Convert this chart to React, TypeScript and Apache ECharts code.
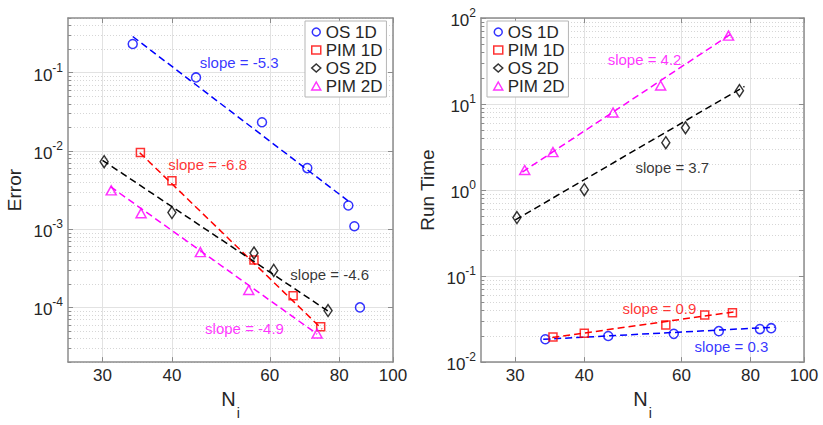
import React, { useEffect, useRef } from 'react';
import * as echarts from 'echarts';

const FONT = '"Liberation Sans", Arial, Helvetica, sans-serif';
const TXT = '#262626';

// ticks
const xTicks = [30, 40, 60, 80, 100];
const errTicks = [1e-4, 1e-3, 1e-2, 1e-1];
const timeTicks = [1e-2, 1e-1, 1, 10, 100];
const minorMultipliers = [2, 3, 4, 5, 6, 7, 8, 9];
const errDecades = [1e-5, 1e-4, 1e-3, 1e-2, 1e-1];
const timeDecades = [1e-2, 1e-1, 1, 10];

// legend names
const names = ['OS 1D', 'PIM 1D', 'OS 2D', 'PIM 2D'];

// Error panel data
const os1dN = [34.0, 44.2, 58.1, 70.1, 83.1, 85.2, 87.2];
const os1dErr = [0.233, 0.087, 0.0233, 0.00603, 0.00201, 0.00109, 0.0001];
const pim1dN = [35.1, 40.0, 56.2, 66.1, 74.1];
const pim1dErr = [0.00953, 0.00416, 0.000403, 0.000141, 0.0000568];
const os2dN = [30.2, 40.0, 56.2, 61.0, 76.4];
const os2dErr = [0.00728, 0.00163, 0.000496, 0.000297, 0.0000912];
const pim2dN = [31.1, 35.2, 45.0, 55.0, 73.0];
const pim2dErr = [0.00313, 0.0016, 0.000509, 0.000167, 0.0000464];

// Error fits (end points)
const os1dErrFit = [[34, 0.29], [83, 0.0023]];
const pim1dErrFit = [[35, 0.0095], [74.5, 0.000053]];
const os2dErrFit = [[30, 0.0076], [77, 0.0000865]];
const pim2dErrFit = [[31, 0.0035], [73, 0.0000457]];

// Run time panel data
const os1dTN = [34.0, 44.2, 58.1, 70.1, 83.2, 87.2];
const os1dT = [0.01845, 0.0201, 0.0213, 0.0229, 0.0242, 0.0248];
const pim1dTN = [35.1, 40.0, 56.2, 66.1, 74.2];
const pim1dT = [0.0196, 0.0217, 0.027, 0.0353, 0.0374];
const os2dTN = [30.2, 40.0, 56.2, 61.0, 76.4];
const os2dT = [0.479, 1.01, 3.55, 5.3, 14.3];
const pim2dTN = [31.2, 35.1, 45.1, 55.0, 73.0];
const pim2dT = [1.71, 2.76, 7.96, 16.4, 62.4];

const os1dTFit = [[33.7, 0.0184], [88.5, 0.0255]];
const pim1dTFit = [[35, 0.0193], [75.2, 0.0386]];
const os2dTFit = [[30, 0.45], [78, 16.0]];
const pim2dTFit = [[30.9, 1.62], [74.5, 68]];

// slope annotations: [N, value, text]
const errSlopes: [number, number, string][] = [
  [44.8, 0.134, 'slope = -5.3'],
  [39.3, 0.00664, 'slope = -6.8'],
  [65.2, 0.000264, 'slope = -4.6'],
  [45.8, 0.000054, 'slope = -4.9'],
];
const timeSlopes: [number, number, string][] = [
  [44.0, 32.8, 'slope = 4.2'],
  [49.4, 1.84, 'slope = 3.7'],
  [46.8, 0.0423, 'slope = 0.9'],
  [63.2, 0.015, 'slope = 0.3'],
];
const errSlopeColors = ['#0000ff', '#ff0000', '#000000', '#ff00ff'];
const timeSlopeColors = ['#ff00ff', '#000000', '#ff0000', '#0000ff'];

const colors = ['#0000ff', '#ff0000', '#000000', '#ff00ff'];
const symbols = ['circle', 'rect', 'diamond', 'triangle'];
const symbolSizes: any[] = [9, 8, [8, 12], [10, 9]];

const zip = (a: number[], b: number[]) => a.map((v, i) => [v, b[i]]);

function minorOf(decades: number[], lo: number, hi: number) {
  const out: number[] = [];
  decades.forEach((d) => minorMultipliers.forEach((m) => {
    const v = m * d;
    if (v >= lo * 0.999 && v <= hi * 1.001) out.push(v);
  }));
  return out;
}

const richSup = {
  b: { fontSize: 17, lineHeight: 22, verticalAlign: 'bottom', color: TXT, fontFamily: FONT },
  s: { fontSize: 12, lineHeight: 22, verticalAlign: 'top', color: TXT, fontFamily: FONT },
};
const supFmt = (v: number) => `{b|10}{s|${Math.round(Math.log10(v))}}`;

const AXIS_COLOR = '#8c8c8c';
const GRID_COLOR = '#e2e2e2';
const MINOR_COLOR = '#d6d6d6';

function xAxes(gi: number) {
  return [
    {
      type: 'log', logBase: 10, gridIndex: gi, min: 26, max: 100, position: 'bottom',
      name: '{n|N}{i|i}', nameLocation: 'middle', nameGap: 20,
      nameTextStyle: {
        rich: {
          n: { fontSize: 20, verticalAlign: 'top', color: TXT, fontFamily: FONT },
          i: { fontSize: 14, verticalAlign: 'top', padding: [17, 0, 0, 1], color: TXT, fontFamily: FONT },
        },
      },
      axisLine: { show: true, onZero: false, lineStyle: { color: AXIS_COLOR, width: 1.5 } },
      axisTick: { show: true, inside: true, length: 5, customValues: xTicks, lineStyle: { color: AXIS_COLOR } },
      axisLabel: {
        customValues: xTicks, margin: 5, fontSize: 17, color: TXT, fontFamily: FONT,
        formatter: (v: number) => String(Math.round(v)),
      },
      splitLine: { show: true, lineStyle: { color: GRID_COLOR, width: 1 } },
      minorTick: { show: false }, minorSplitLine: { show: false },
    },
    {
      type: 'log', logBase: 10, gridIndex: gi, min: 26, max: 100, position: 'top',
      axisLine: { show: true, onZero: false, lineStyle: { color: AXIS_COLOR, width: 1.5 } },
      axisTick: { show: true, inside: true, length: 5, customValues: xTicks, lineStyle: { color: AXIS_COLOR } },
      axisLabel: { show: false },
      splitLine: { show: false },
    },
  ];
}

function yAxes(gi: number, min: number, max: number, ticks: number[], minor: number[], name: string) {
  return [
    {
      type: 'log', logBase: 10, gridIndex: gi, min, max, position: 'left',
      name, nameLocation: 'middle', nameGap: 44,
      nameTextStyle: { fontSize: 19, color: TXT, fontFamily: FONT },
      axisLine: { show: true, onZero: false, lineStyle: { color: AXIS_COLOR, width: 1.5 } },
      axisTick: { show: true, inside: true, length: 5, customValues: ticks, lineStyle: { color: AXIS_COLOR } },
      axisLabel: { customValues: ticks, margin: 5, formatter: supFmt, rich: richSup },
      splitLine: { show: true, lineStyle: { color: GRID_COLOR, width: 1 } },
    },
    {
      type: 'log', logBase: 10, gridIndex: gi, min, max, position: 'left',
      axisLine: { show: false, onZero: false },
      axisTick: { show: true, inside: true, length: 3, customValues: minor, lineStyle: { color: AXIS_COLOR } },
      axisLabel: { show: false },
      splitLine: { show: true, lineStyle: { color: MINOR_COLOR, width: 1, type: [1, 2] } },
    },
    {
      type: 'log', logBase: 10, gridIndex: gi, min, max, position: 'right',
      axisLine: { show: true, onZero: false, lineStyle: { color: AXIS_COLOR, width: 1.5 } },
      axisTick: { show: true, inside: true, length: 5, customValues: ticks, lineStyle: { color: AXIS_COLOR } },
      axisLabel: { show: false },
      splitLine: { show: false },
    },
  ];
}

function pointSeries(xi: number, yi: number, sets: number[][][]) {
  return sets.map((d, k) => ({
    type: 'scatter', name: names[k], xAxisIndex: xi, yAxisIndex: yi, data: d,
    symbol: symbols[k], symbolSize: symbolSizes[k], z: 5,
    itemStyle: { color: 'transparent', borderColor: colors[k], borderWidth: 1.5 },
  }));
}

function fitSeries(xi: number, yi: number, fits: number[][][], tag: string) {
  return fits.map((d, k) => ({
    type: 'line', name: `${names[k]} fit ${tag}`, xAxisIndex: xi, yAxisIndex: yi, data: d,
    showSymbol: false, symbol: 'none', z: 3,
    lineStyle: { color: colors[k], width: 1.5, type: [7, 4] },
  }));
}

function slopeSeries(xi: number, yi: number, items: [number, number, string][], cols: string[]) {
  return {
    type: 'scatter', name: 'slopes', xAxisIndex: xi, yAxisIndex: yi, symbolSize: 1, silent: true, z: 6,
    itemStyle: { color: 'transparent' },
    data: items.map((it, k) => ({
      value: [it[0], it[1]],
      label: {
        show: true, position: 'right', distance: 0, formatter: it[2],
        color: cols[k], fontSize: 15, fontFamily: FONT,
      },
    })),
  };
}

function legend(left: number) {
  return {
    orient: 'vertical', left, top: 21, padding: [2, 4, 2, 6], itemGap: 0,
    itemWidth: 9, itemHeight: 8, itemTextGap: 5,
    borderColor: '#b5b5b5', borderWidth: 1, backgroundColor: '#ffffff',
    textStyle: { fontSize: 17, lineHeight: 18, color: TXT, fontFamily: FONT },
    data: names.map((n, k) => ({
      name: n, icon: symbols[k],
      itemStyle: { color: 'transparent', borderColor: colors[k], borderWidth: 1.5 },
    })),
    z: 10,
  };
}

export default function App() {
  const ref = useRef<HTMLDivElement>(null);
  useEffect(() => {
    if (!ref.current) return;
    const chart = echarts.init(ref.current, null, { renderer: 'svg' });
    const errMinor = minorOf(errDecades, 2e-5, 0.5);
    const timeMinor = minorOf(timeDecades, 0.01, 100);
    const option: any = {
      animation: false,
      backgroundColor: '#ffffff',
      textStyle: { fontFamily: FONT },
      grid: [
        { left: 68, top: 18, width: 325, height: 364 },
        { left: 481, top: 18, width: 323, height: 364 },
      ],
      xAxis: [...xAxes(0), ...xAxes(1)],
      yAxis: [
        ...yAxes(0, 2e-5, 0.5, errTicks, errMinor, 'Error'),
        ...yAxes(1, 0.01, 100, timeTicks, timeMinor, 'Run Time'),
      ],
      legend: [legend(305), legend(487)],
      series: [
        ...fitSeries(0, 0, [os1dErrFit, pim1dErrFit, os2dErrFit, pim2dErrFit], 'err'),
        ...pointSeries(0, 0, [zip(os1dN, os1dErr), zip(pim1dN, pim1dErr), zip(os2dN, os2dErr), zip(pim2dN, pim2dErr)]),
        slopeSeries(0, 0, errSlopes, errSlopeColors),
        ...fitSeries(2, 3, [os1dTFit, pim1dTFit, os2dTFit, pim2dTFit], 'time'),
        ...pointSeries(2, 3, [zip(os1dTN, os1dT), zip(pim1dTN, pim1dT), zip(os2dTN, os2dT), zip(pim2dTN, pim2dT)]),
        slopeSeries(2, 3, timeSlopes, timeSlopeColors),
      ],
    };
    chart.setOption(option);
    return () => chart.dispose();
  }, []);
  return (
    <div
      ref={ref}
      style={{ position: 'absolute', left: 0, top: 0, width: 823, height: 425, background: '#fff' }}
    />
  );
}
